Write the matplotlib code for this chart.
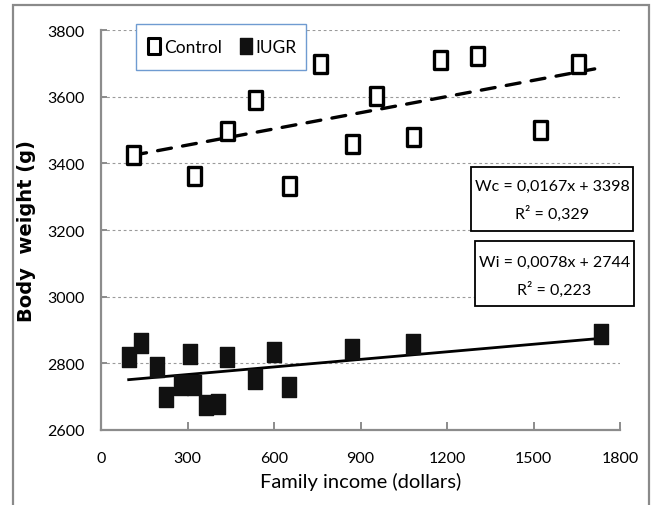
import matplotlib
matplotlib.use("Agg")
import matplotlib.pyplot as plt
from matplotlib import font_manager
from matplotlib.path import Path
from matplotlib.patches import Rectangle
from matplotlib.lines import Line2D

# ---------------- data ----------------
control_income = [110, 323, 436, 533, 652, 759, 871, 955, 1082, 1177, 1303, 1521, 1656]
control_weight = [3425, 3361, 3498, 3590, 3333, 3698, 3458, 3601, 3478, 3710, 3723, 3500, 3698]

iugr_income = [96, 140, 194, 227, 277, 307, 324, 365, 406, 436, 533, 601, 652, 871, 1082, 1734]
iugr_weight = [2818, 2862, 2788, 2700, 2735, 2828, 2735, 2675, 2678, 2818, 2752, 2835, 2728, 2844, 2857, 2888]

control_trend_x = [110, 1735]
control_trend_y = [3424, 3687]
iugr_trend_x = [96, 1734]
iugr_trend_y = [2751, 2875]

x_ticks = [0, 300, 600, 900, 1200, 1500, 1800]
y_ticks = [2600, 2800, 3000, 3200, 3400, 3600, 3800]

series_names = ["Control", "IUGR"]
eq_control = ["Wc = 0,0167x + 3398", "R² = 0,329"]
eq_iugr = ["Wi = 0,0078x + 2744", "R² = 0,223"]

# ---------------- fonts ----------------
avail = {f.name for f in font_manager.fontManager.ttflist}
def pick(*names):
    for n in names:
        if n in avail:
            return n
    return "DejaVu Sans"
body_font = pick("Lato", "Roboto", "Open Sans")
plt.rcParams['font.family'] = [body_font, 'DejaVu Sans']

W, H = 657, 506
fig = plt.figure(figsize=(W / 100, H / 100), dpi=100)
ax = fig.add_axes([101 / W, 1 - 431 / H, (620 - 101) / W, (431 - 31) / H])

def fx(px):
    return px / W
def fy(py):
    return 1 - py / H

# tall rectangle marker
rect = Path([(-0.72, -1), (0.72, -1), (0.72, 1), (-0.72, 1), (-0.72, -1)],
            [Path.MOVETO, Path.LINETO, Path.LINETO, Path.LINETO, Path.CLOSEPOLY])

ax.plot(control_trend_x, control_trend_y, color='black', lw=2.4,
        dashes=(4.2, 3.4), dash_capstyle='round', zorder=2)
ax.plot(iugr_trend_x, iugr_trend_y, color='black', lw=2.0, zorder=2)

ax.plot(control_income, control_weight, linestyle='none', marker=rect, markersize=13,
        markerfacecolor='white', markeredgecolor='black', markeredgewidth=2.4, zorder=3)
ax.plot(iugr_income, iugr_weight, linestyle='none', marker=rect, markersize=14,
        markerfacecolor='#111111', markeredgecolor='#111111', markeredgewidth=1.0, zorder=3)

ax.set_xlim(0, 1800)
ax.set_ylim(2600, 3800)
ax.set_xticks(x_ticks)
ax.set_yticks(y_ticks)
ax.set_xticklabels([str(v) for v in x_ticks])
ax.set_yticklabels([str(v) for v in y_ticks])

for s in ['top', 'right']:
    ax.spines[s].set_visible(False)
for s in ['left', 'bottom']:
    ax.spines[s].set_color('#8c8c8c')
    ax.spines[s].set_linewidth(1.6)

ax.tick_params(axis='x', direction='in', length=6, width=1.4, color='#8c8c8c',
               labelsize=11.5, pad=15)
ax.tick_params(axis='y', direction='in', length=4, width=1.4, color='#8c8c8c',
               labelsize=11.5, pad=12)

ax.yaxis.grid(True, color='#9a9a9a', linestyle=(0, (2.5, 2.5)), linewidth=0.8)
ax.set_axisbelow(True)

ax.set_xlabel("Family income (dollars)", fontsize=14.5, labelpad=5)
ax.set_ylabel("Body  weight (g)", fontsize=14, fontweight='bold',
              family=['DejaVu Sans'], labelpad=8)

# legend box + legend
ax.add_patch(Rectangle((fx(136), fy(71)), fx(306) - fx(136), fy(25) - fy(71),
                       transform=fig.transFigure, facecolor='white',
                       edgecolor='#6f9bd1', linewidth=1.0, zorder=4, clip_on=False))
handles = [
    Line2D([], [], linestyle='none', marker=rect, markersize=12, markerfacecolor='white',
           markeredgecolor='black', markeredgewidth=2.2),
    Line2D([], [], linestyle='none', marker=rect, markersize=12, markerfacecolor='#111111',
           markeredgecolor='#111111'),
]
leg = ax.legend(handles, series_names, ncol=2, loc='center',
                bbox_to_anchor=(fx(223), fy(48)), bbox_transform=fig.transFigure,
                fontsize=12.5, frameon=False,
                handlelength=0.6, handletextpad=0.25, columnspacing=1.1,
                borderaxespad=0, borderpad=0)
leg.set_zorder(6)

# equation boxes
def eq_box(x0, y0, x1, y1, lines, line_y):
    ax.add_patch(Rectangle((fx(x0), fy(y1)), fx(x1) - fx(x0), fy(y0) - fy(y1),
                           transform=fig.transFigure, facecolor='white',
                           edgecolor='black', linewidth=1.3, zorder=4, clip_on=False))
    cx = (x0 + x1) / 2
    for txt, ly in zip(lines, line_y):
        ax.text(fx(cx), fy(ly), txt, transform=fig.transFigure, ha='center', va='center',
                fontsize=11.5, zorder=5)

eq_box(471, 168, 633, 232, eq_control, [187, 214])
eq_box(475, 242, 634, 307, eq_iugr, [263, 290])

# outer frame
fig.patches.append(Rectangle((fx(12.7), -0.05), fx(649) - fx(12.7), 1.05 - 6 / H,
                             transform=fig.transFigure, fill=False,
                             edgecolor='#8a8a8a', linewidth=1.6))

fig.savefig("out.png", dpi=100)
